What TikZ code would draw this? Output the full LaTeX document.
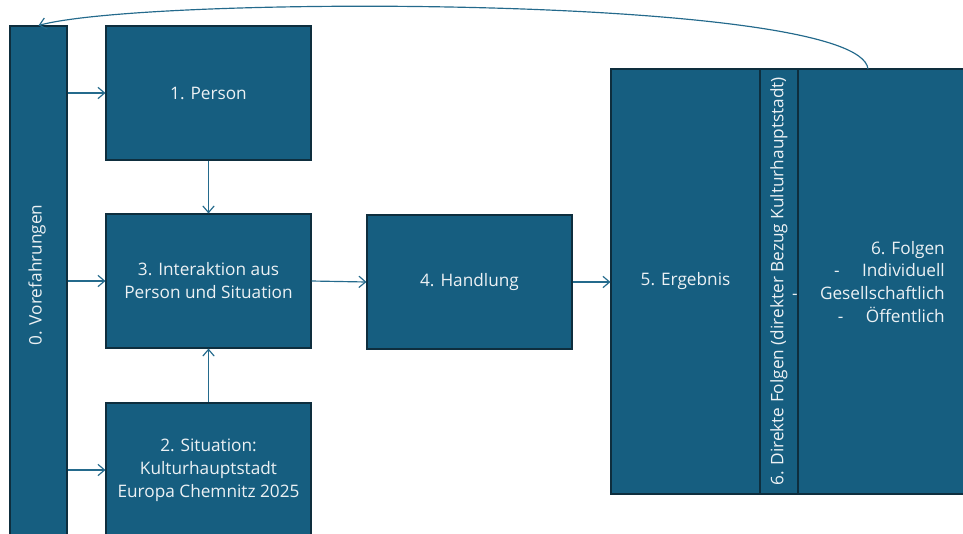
\documentclass[tikz,border=0pt]{standalone}
\usepackage{fontspec}
\setmainfont{Open Sans}
\usetikzlibrary{arrows.meta}
\definecolor{boxblue}{RGB}{22,94,128}
\definecolor{boxedge}{RGB}{14,46,62}
\definecolor{linkblue}{RGB}{36,106,140}
\definecolor{boxtext}{RGB}{236,241,244}
\tikzset{
  blk/.style={draw=boxedge, fill=boxblue, line width=0.9pt, text=boxtext, align=center, inner sep=0pt},
  lbl/.style={text=boxtext, align=center, inner sep=0pt},
  conn/.style={draw=linkblue, line width=1pt, -{Straight Barb[length=2mm,width=3.4mm]}},
}
\def\px{0.03cm}
\begin{document}
\begin{tikzpicture}[x=\px,y=-\px,font=\fontsize{14.7}{19.6}\selectfont]
      \useasboundingbox (0,0) rectangle (963,533);
      \clip (0,0) rectangle (963,533);
      % left column and boxes
      \node[blk, minimum width=57*\px, minimum height=519*\px] (vor) at (38.5,285.5) {};
      \node[lbl, rotate=90] (vorlbl) at (37,275) {0. Vorefahrungen};
      \node[blk, minimum width=205*\px, minimum height=134*\px] (per) at (208.5,93) {1. Person};
      \node[blk, minimum width=205*\px, minimum height=134*\px] (inter) at (208.5,281) {3. Interaktion aus\\Person und Situation};
      \node[blk, minimum width=205*\px, minimum height=134*\px] (sit) at (208.5,470) {2. Situation:\\Kulturhauptstadt\\Europa Chemnitz 2025};
      \node[blk, minimum width=205*\px, minimum height=134*\px] (hand) at (469.5,282) {4. Handlung};
      % right block
      \node[blk, minimum width=149*\px, minimum height=425*\px] (erg) at (685.5,281.5) {5. Ergebnis};
      \node[blk, minimum width=38*\px, minimum height=425*\px] (dir) at (779,281.5) {};
      \node[lbl, rotate=90] (dirlbl) at (dir.center) {6. Direkte Folgen (direkter Bezug Kulturhauptstadt)};
      \node[blk, minimum width=212*\px, minimum height=425*\px] (fol) at (904,281.5) {};
      \node[lbl, align=right, anchor=east] (follbl) at (945,282) {6. Folgen\\-\hspace{1.3em}Individuell\\-\hspace{1.3em}Gesellschaftlich\\-\hspace{1.3em}Öffentlich};
      % connectors
      \draw[conn] (vor.east |- per) -- (per.west);
      \draw[conn] (vor.east |- inter) -- (inter.west);
      \draw[conn] (vor.east |- sit) -- (sit.west);
      \draw[conn] (per.south) -- (inter.north);
      \draw[conn] (sit.north) -- (inter.south);
      \draw[conn] (inter.east) -- (hand.west);
      \draw[conn] (hand.east) -- (hand.east -| erg.west);
      \coordinate (back) at (868,69);
      \draw[conn] (back) .. controls (860,-5) and (150,-5) .. (vor.north);
\end{tikzpicture}
\end{document}
